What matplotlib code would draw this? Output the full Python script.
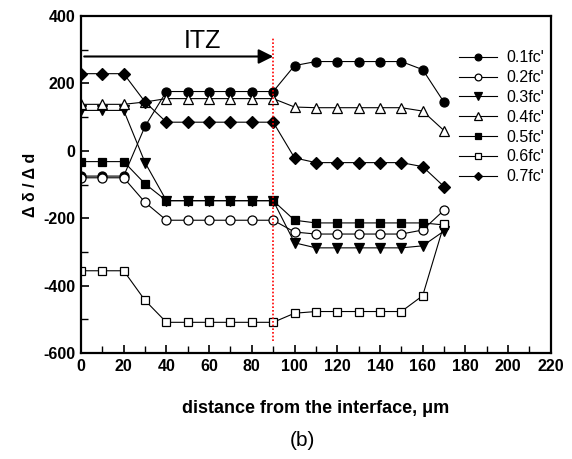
import matplotlib
matplotlib.use("Agg")
import matplotlib.pyplot as plt

plt.rcParams['font.family'] = ['Liberation Sans', 'DejaVu Sans']
plt.rcParams['axes.unicode_minus'] = False

distance = [0, 10, 20, 30, 40, 50, 60, 70, 80, 90, 100, 110, 120, 130, 140, 150, 160, 170]

fc01 = [-75, -75, -75, 73, 176, 176, 176, 176, 176, 176, 253, 265, 265, 265, 265, 265, 241, 144]
fc02 = [-80, -80, -80, -153, -206, -206, -206, -206, -206, -206, -241, -247, -247, -247, -247, -247, -235, -176]
fc03 = [120, 120, 120, -35, -148, -148, -148, -148, -148, -148, -273, -288, -288, -288, -288, -288, -282, -238]
fc04 = [138, 138, 138, 145, 155, 155, 155, 155, 155, 155, 130, 128, 128, 128, 128, 128, 118, 60]
fc05 = [-32, -32, -32, -98, -148, -148, -148, -148, -148, -148, -206, -214, -214, -214, -214, -214, -214, -220]
fc06 = [-356, -356, -356, -444, -509, -509, -509, -509, -509, -509, -482, -477, -477, -477, -477, -477, -430, -218]
fc07 = [229, 229, 229, 145, 85, 85, 85, 85, 85, 85, -21, -35, -35, -35, -35, -35, -47, -106]

series_labels = ["0.1fc'", "0.2fc'", "0.3fc'", "0.4fc'", "0.5fc'", "0.6fc'", "0.7fc'"]
series_values = [fc01, fc02, fc03, fc04, fc05, fc06, fc07]
series_markers = ['o', 'o', 'v', '^', 's', 's', 'D']
series_fills = ['black', 'white', 'black', 'white', 'black', 'white', 'black']
series_sizes = [6.5, 6.5, 7, 7, 6, 6, 6]

fig = plt.figure(figsize=(5.72, 4.59), dpi=100)
ax = fig.add_axes([0.1416, 0.231, 0.8214, 0.734])

for lab, vals, m, fc, ms in zip(series_labels, series_values, series_markers,
                                series_fills, series_sizes):
    ax.plot(distance, vals, color='black', lw=0.8, marker=m, markersize=ms,
            markerfacecolor=fc, markeredgecolor='black', markeredgewidth=0.9,
            label=lab)

# ITZ boundary and arrow
ax.plot([90, 90], [-565, 335], color='red', lw=1.2, ls=(0, (1, 1.2)))
ax.annotate('', xy=(90, 280), xytext=(1.5, 280),
            arrowprops=dict(arrowstyle='-|>', color='black', lw=1.5,
                            mutation_scale=22, shrinkA=0, shrinkB=0))
ax.text(57, 326, 'ITZ', fontsize=18, ha='center', va='center')

ax.set_xlim(0, 220)
ax.set_ylim(-600, 400)
ax.set_xticks(range(0, 221, 20))
ax.set_xticks(range(0, 221, 10), minor=True)
ax.set_yticks(range(-600, 401, 200))
ax.set_yticks(range(-600, 401, 100), minor=True)
ax.tick_params(which='both', direction='in', top=False, right=False)
ax.tick_params(which='major', length=6, width=1.2, labelsize=11.5, pad=4)
ax.tick_params(which='minor', length=5, width=1.0)
for t in ax.get_xticklabels() + ax.get_yticklabels():
    t.set_fontweight('bold')
for sp in ax.spines.values():
    sp.set_linewidth(1.6)

ax.set_xlabel('distance from the interface, \u03bcm', fontsize=13, fontweight='bold',
              labelpad=19)
ax.set_ylabel('\u0394 \u03b4 / \u0394 d', fontsize=11.5, fontweight='bold', labelpad=4)

leg = ax.legend(loc='upper right', bbox_to_anchor=(1.01, 0.931), frameon=False,
                fontsize=11.5, handlelength=2.4, handletextpad=0.6,
                labelspacing=0.3, borderaxespad=0.3, markerscale=0.75)

fig.text(0.528, 0.041, '(b)', fontsize=15, ha='center', va='center')

fig.savefig('out.png', dpi=100)
